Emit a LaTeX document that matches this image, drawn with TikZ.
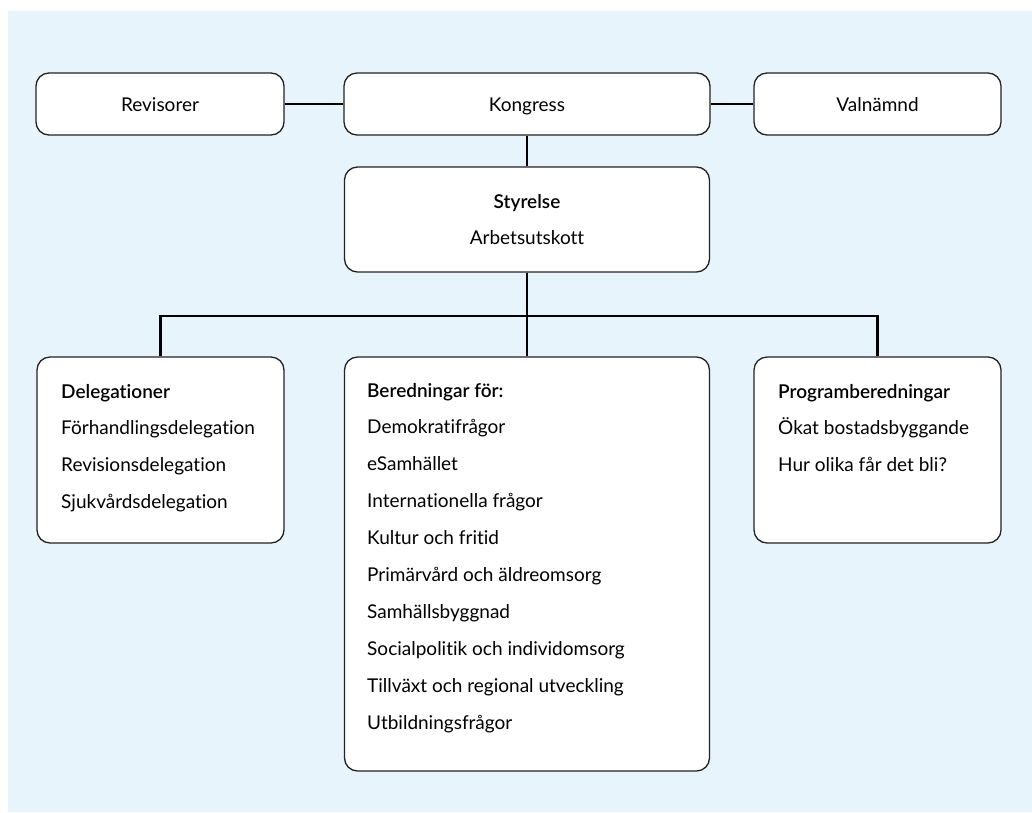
\documentclass[tikz,border=0pt]{standalone}
\usepackage{fontspec}
\setmainfont{Lato}[BoldFont={Lato Semibold}, Ligatures=NoCommon]
\definecolor{panelblue}{RGB}{232,244,251}
\definecolor{boxline}{RGB}{34,34,34}

\begin{document}
\begin{tikzpicture}[x={(1pt, 0pt)}, y={(0pt, -1pt)}]
  \tikzstyle{box}=[draw=boxline, line width=1.3pt, fill=white, rounded corners=13pt, inner sep=0pt, align=center, font=\fontsize{19}{36}\selectfont]
  \tikzstyle{single}=[text height=14pt, text depth=0pt]
  \tikzstyle{entry}=[anchor=base west, inner sep=0pt, font=\fontsize{19}{21}\selectfont]
  \tikzstyle{link}=[line width=2.4pt, black]

\useasboundingbox (0, 0) rectangle (1032, 812);
\fill[panelblue] (8, 11) rectangle (1032, 812);

\node[box, single, minimum width=248, minimum height=62] (revisorer) at (160, 104) {Revisorer};
\node[box, single, minimum width=366, minimum height=62] (kongress) at (527, 104) {Kongress};
\node[box, single, minimum width=247, minimum height=62] (valnamnd) at (877.5, 104) {Valnämnd};

\node[box, minimum width=365, minimum height=105] (styrelse) at (527, 219.5) {\textbf{Styrelse}\\Arbetsutskott};

\node[box, minimum width=247, minimum height=186] (deleg) at (160.5, 450) {};
\node[box, minimum width=365, minimum height=414] (bered) at (527, 564) {};
\node[box, minimum width=247, minimum height=186] (progr) at (877.5, 450) {};

\draw[link] (revisorer) -- (kongress);
\draw[link] (kongress) -- (valnamnd);
\draw[link] (kongress) -- (styrelse);

\coordinate (bus) at (527, 316);
\draw[link] (styrelse) -- (bered);
\draw[link] (deleg.north) |- (bus) -| (progr.north);

% Delegationer
\node[entry] (d0) at (61, 398) {\textbf{Delegationer}};
\node[entry] (d1) at (61, 434.8) {Förhandlingsdelegation};
\node[entry] (d2) at (61, 471.6) {Revisionsdelegation};
\node[entry] (d3) at (61, 508.4) {Sjukvårdsdelegation};

% Beredningar
\node[entry] (b0) at (367, 397) {\textbf{Beredningar för:}};
\node[entry] (b1) at (367, 433.9) {Demokratifrågor};
\node[entry] (b2) at (367, 470.8) {eSamhället};
\node[entry] (b3) at (367, 507.7) {Internationella frågor};
\node[entry] (b4) at (367, 544.6) {Kultur och fritid};
\node[entry] (b5) at (367, 581.5) {Primärvård och äldreomsorg};
\node[entry] (b6) at (367, 618.4) {Samhällsbyggnad};
\node[entry] (b7) at (367, 655.3) {Socialpolitik och individomsorg};
\node[entry] (b8) at (367, 692.2) {Tillväxt och regional utveckling};
\node[entry] (b9) at (367, 729.1) {Utbildningsfrågor};

% Programberedningar
\node[entry] (p0) at (778, 398) {\textbf{Programberedningar}};
\node[entry] (p1) at (778, 434.8) {Ökat bostadsbyggande};
\node[entry] (p2) at (778, 471.6) {Hur olika får det bli?};
\end{tikzpicture}
\end{document}
